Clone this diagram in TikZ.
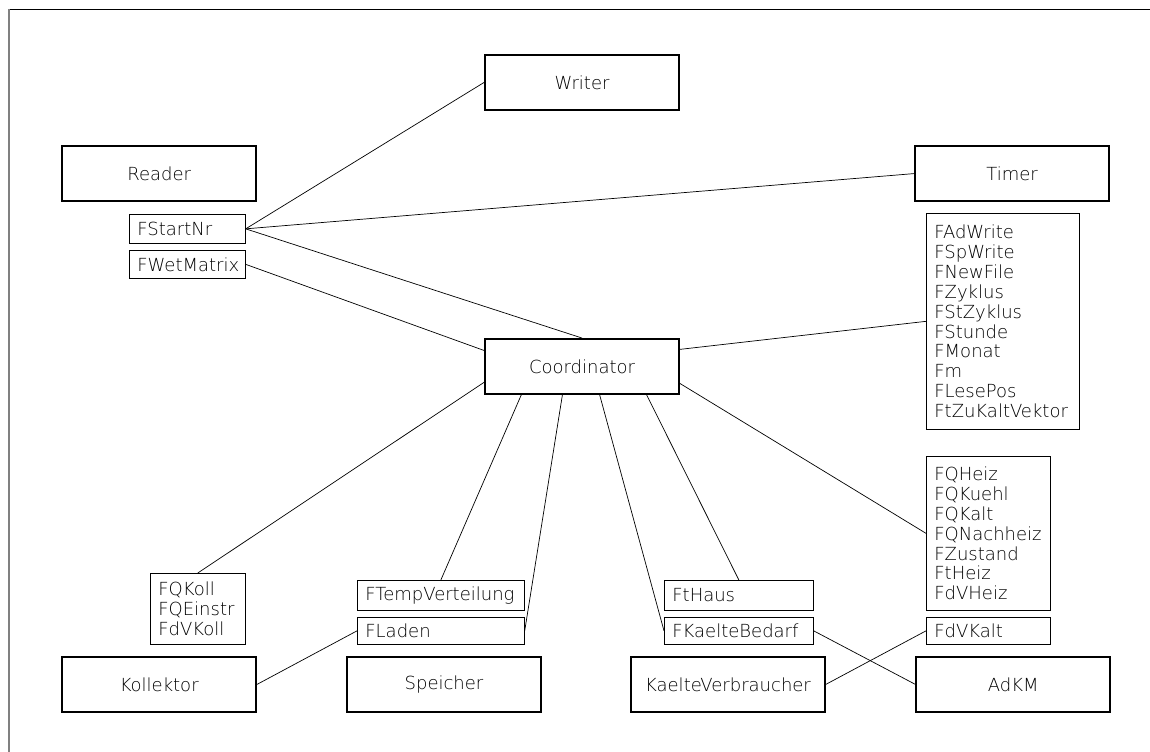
\documentclass[tikz,border=0pt]{standalone}
\usepackage{fontspec}
\setmainfont{DejaVu Sans ExtraLight}
\usepackage{tikz}
\usetikzlibrary{positioning}
\usetikzlibrary{calc}
\usetikzlibrary{arrows, shapes}
\tikzstyle{block} = [rectangle, draw=black, line width=1.2pt, minimum width=4.85cm, minimum height=1.375cm, inner sep=0pt, text centered, font=\fontsize{12.8}{14.2}\selectfont]
\tikzstyle{var} = [rectangle, draw=black, line width=0.5pt, anchor=north west, inner xsep=0.2cm, inner ysep=0pt, align=left, font=\fontsize{12.8}{14.2}\selectfont]
\tikzstyle{link} = [line width=0.5pt]

\begin{document}
\begin{tikzpicture}
      \useasboundingbox (0,0) rectangle (28.75,18.8);
      \draw[line width=0.5pt] (0.225,18.575) -- (28.75,18.575);
      \draw[line width=1pt, gray] (0.225,18.575) -- (0.225,0);
      %%%%%%%%%%%%%%%%%%%%%%%%%%%%%%%%%%%%%%%
      \node (wr) [block] at (14.55,16.74) {Writer};
      \node (rd) [block] at (3.98,14.46) {Reader};
      \node (tm) [block] at (25.3,14.46) {Timer};
      \node (co) [block] at (14.55,9.64) {Coordinator};
      \node (ko) [block] at (3.98,1.69) {Kollektor};
      \node (sp) [block] at (11.1,1.69) {Speicher};
      \node (kv) [block] at (18.2,1.69) {KaelteVerbraucher};
      \node (ad) [block] at (25.33,1.69) {AdKM};
      %%%%%%%%%%%%%%%%%%%%%%%%%%%%%%%%%%%%%%%
      \node (fstart) [var, text width=2.5cm, minimum height=0.725cm] at (3.225,13.45) {FStartNr};
      \node (fwet) [var, text width=2.5cm, minimum height=0.7cm] at (3.225,12.55) {FWetMatrix};
      \node (ftimer) [var, text width=3.425cm, minimum height=5.4cm] at (23.15,13.475) {FAdWrite\\FSpWrite\\FNewFile\\FZyklus\\FStZyklus\\FStunde\\FMonat\\Fm\\FLesePos\\FtZuKaltVektor};
      \node (fheiz) [var, text width=2.7cm, minimum height=3.85cm] at (23.15,7.4) {FQHeiz\\FQKuehl\\FQKalt\\FQNachheiz\\FZustand\\FtHeiz\\FdVHeiz};
      \node (fdvkalt) [var, text width=2.7cm, minimum height=0.675cm] at (23.15,3.375) {FdVKalt};
      \node (fkoll) [var, text width=1.975cm, minimum height=1.775cm] at (3.75,4.475) {FQKoll\\FQEinstr\\FdVKoll};
      \node (ftemp) [var, text width=3.775cm, minimum height=0.75cm] at (8.925,4.3) {FTempVerteilung};
      \node (flad) [var, text width=3.775cm, minimum height=0.675cm] at (8.925,3.375) {FLaden};
      \node (fhaus) [var, text width=3.325cm, minimum height=0.75cm] at (16.6,4.3) {FtHaus};
      \node (fkbed) [var, text width=3.325cm, minimum height=0.675cm] at (16.6,3.375) {FKaelteBedarf};
      %%%%%%%%%%%%%%%%%%%%%%%%%%%%%%%%%%%%%%%
      \draw[link] (fstart.east)--(wr.west);
      \draw[link] (fstart.east)--(tm.west);
      \draw[link] (fstart.east)--(co.north);
      \draw[link] (fwet.east)--($(co.north west)!0.22!(co.south west)$);
      \draw[link] ($(co.north west)!0.78!(co.south west)$)--(fkoll.north);
      \draw[link] ($(co.north east)!0.2!(co.south east)$)--(ftimer.west);
      \draw[link] ($(co.north east)!0.8!(co.south east)$)--(fheiz.west);
      \draw[link] ($(co.south west)!0.19!(co.south east)$)--(ftemp.north);
      \draw[link] ($(co.south west)!0.4!(co.south east)$)--(flad.east);
      \draw[link] ($(co.south west)!0.59!(co.south east)$)--(fkbed.west);
      \draw[link] ($(co.south west)!0.83!(co.south east)$)--(fhaus.north);
      \draw[link] (flad.west)--(ko.east);
      \draw[link] (fkbed.east)--(ad.west);
      \draw[link] (kv.east)--(fdvkalt.west);
      \end{tikzpicture}
\end{document}
